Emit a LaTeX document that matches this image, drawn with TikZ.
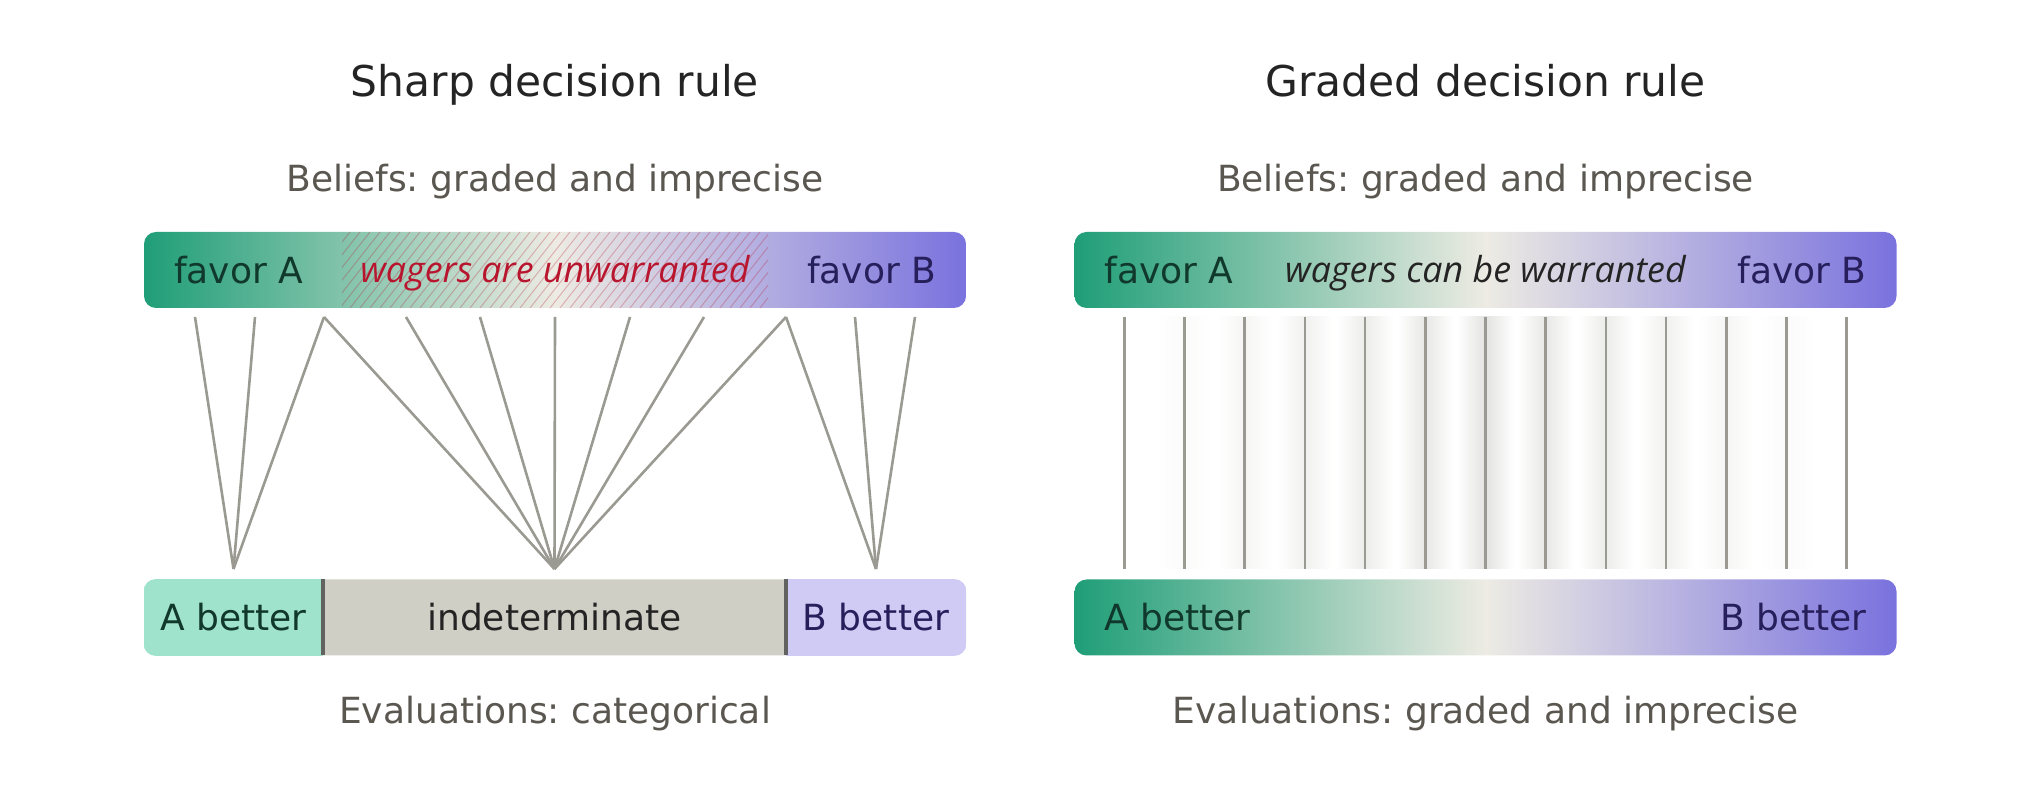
\documentclass[tikz,border=0pt]{standalone}
\usepackage{fontspec}
\setmainfont{DejaVu Sans}
\newfontfamily\wagerfont{Open Sans}
\usetikzlibrary{positioning}
\frenchspacing

\definecolor{favA}{HTML}{1F9E77}
\definecolor{favB}{HTML}{7A72DE}
\definecolor{midcol}{HTML}{EDEBE3}
\definecolor{inkA}{HTML}{10382B}
\definecolor{inkB}{HTML}{261F5C}
\definecolor{titleink}{HTML}{242424}
\definecolor{subink}{HTML}{5A5650}
\definecolor{linkgray}{HTML}{9A9A92}
\definecolor{wagerred}{HTML}{B8162E}
\definecolor{boxA}{HTML}{A0E3CC}
\definecolor{boxI}{HTML}{D0CFC5}
\definecolor{boxB}{HTML}{D0CBF5}
\definecolor{sepgray}{HTML}{626260}

\pgfdeclarehorizontalshading{graded}{100bp}{color(0bp)=(favA); color(25bp)=(favA);
    color(50bp)=(midcol); color(75bp)=(favB); color(100bp)=(favB)}

\tikzset{
    bar/.style = {rounded corners=6pt, minimum width=411pt, minimum height=38pt, inner sep=0pt},
    lbl/.style = {inner sep=0pt, text height=13.1pt, text depth=0pt, font=\fontsize{18}{22}\selectfont},
    heading/.style = {lbl, text=titleink, text height=15.5pt, font=\fontsize{21.2}{25}\selectfont},
    subhead/.style = {lbl, text=subink},
    wager/.style = {lbl, text height=12.8pt, font=\wagerfont\itshape\fontsize{17.9}{21}\selectfont},
    link/.style = {draw=linkgray, line width=1.3pt},
    hatchline/.style = {draw=wagerred, draw opacity=0.28, line width=0.5pt},
    sep/.style = {draw=sepgray, line width=1.9pt},
}

\begin{document}
\begin{tikzpicture}[x=0.5pt, y=-0.5pt]
\useasboundingbox (0,0) rectangle (2040,795);

% sharp decision rule
\node[heading] (sharp) at (555,81) {Sharp decision rule};
\node[subhead] (sbel) at (555,178) {Beliefs: graded and imprecise};
\node[bar, shading=graded] (sbar) at (555,270) {};
\begin{scope}
    \clip (342,232) rectangle (768,308);
    \foreach \x in {230,240,...,780}
        \draw[hatchline] (\x,308) -- ++(60,-76);
\end{scope}
\node[lbl, text=inkA, right=15pt of sbar.west] (sfavA) {favor A};
\node[lbl, text=inkB, left=15pt of sbar.east] (sfavB) {favor B};
\node[wager, text=wagerred] (swager) at (sbar) {wagers are unwarranted};

\node[bar, fill=boxI] (seval) at (555,617.5) {};
\begin{scope}
    \clip[rounded corners=6pt] (seval.south west) rectangle (seval.north east);
    \fill[boxA] (seval.south west) rectangle (323,579);
    \fill[boxB] (786,579) rectangle (seval.south east);
\end{scope}
\draw[sep] (323,579.5) -- (323,655.5);
\draw[sep] (786,579.5) -- (786,655.5);
\node[lbl, text=inkA] (sAbet) at (233.5,617.5) {A better};
\node[lbl, text=titleink] (sind) at (554.5,617.5) {indeterminate};
\node[lbl, text=inkB] (sBbet) at (876,617.5) {B better};
\node[subhead] (seva) at (555,710) {Evaluations: categorical};

% many belief states, three verdicts
\foreach \dx [count=\i] in {-360,-300,-231,-149,-75,0,75,149,231,300,360}
    \coordinate (st\i) at ({555+(\dx)},317);
\coordinate (sA) at (233.5,569);
\coordinate (sI) at (554.5,569);
\coordinate (sB) at (876,569);
\foreach \i in {1,2,3} \draw[link] (st\i) -- (sA);
\foreach \i in {3,...,9} \draw[link] (st\i) -- (sI);
\foreach \i in {9,10,11} \draw[link] (st\i) -- (sB);

% graded decision rule
\node[heading] (graded) at (1485.5,81) {Graded decision rule};
\node[subhead] (gbel) at (1485.5,178) {Beliefs: graded and imprecise};
\node[bar, shading=graded] (gbar) at (1485.5,270) {};
\node[lbl, text=inkA, right=15pt of gbar.west] (gfavA) {favor A};
\node[lbl, text=inkB, left=15pt of gbar.east] (gfavB) {favor B};
\node[wager, text=titleink] (gwager) at (gbar) {wagers can be warranted};

\node[bar, shading=graded] (geval) at (1485.5,617.5) {};
\node[lbl, text=inkA, right=15pt of geval.west] (gAbet) {A better};
\node[lbl, text=inkB, left=15pt of geval.east] (gBbet) {B better};
\node[subhead] (geva) at (1485.5,710) {Evaluations: graded and imprecise};

% one line per belief state, blurred near the middle
\foreach \k [count=\i] in {-6,...,6} {
    \pgfmathsetmacro\gx{1485.5+60.2*\k}
    \pgfmathsetmacro\glow{max(0,28*(1-abs(\k)/6))}
    \shade[left color=white, right color=white, middle color=linkgray!\glow!white]
        (\gx-28,317) rectangle (\gx+28,569);
    \coordinate (gt\i) at (\gx,317);
    \coordinate (gb\i) at (\gx,569);
    \draw[link] (gt\i) -- (gb\i);
}
\end{tikzpicture}
\end{document}
